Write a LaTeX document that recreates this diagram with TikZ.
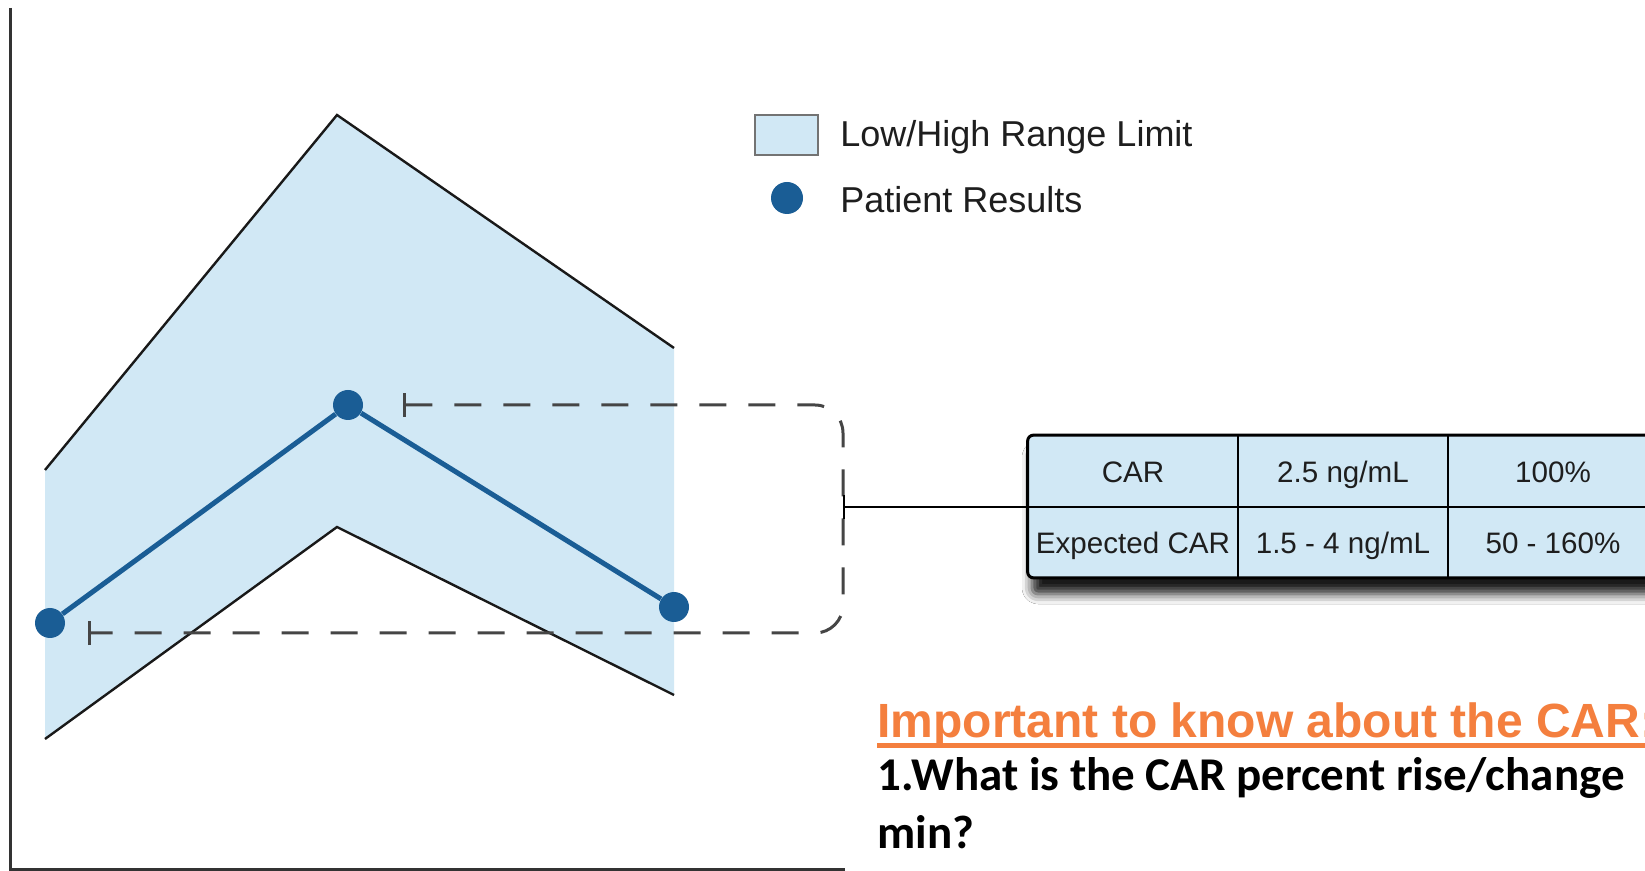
\documentclass[tikz,border=0pt]{standalone}
\usepackage{fontspec}
\setmainfont{Liberation Sans}
\newfontfamily\calfont{Carlito}
\usetikzlibrary{arrows.meta,shadows.blur}
\definecolor{band}{HTML}{D1E8F5}
\definecolor{dotblue}{HTML}{1A5D95}
\definecolor{hdorange}{HTML}{F47F3E}
\definecolor{dashgray}{HTML}{454545}
\definecolor{txtgray}{HTML}{1E1E1E}
\begin{document}
\begin{tikzpicture}[x=0.5pt,y=-0.5pt,
  axisline/.style={line width=1.5pt, draw=black!80},
  limitline/.style={line width=1.2pt, draw=black!90},
  patline/.style={line width=2.5pt, draw=dotblue},
  pdot/.style={circle, fill=dotblue, inner sep=0pt, minimum size=15pt},
  dashbox/.style={line width=1.5pt, draw=dashgray, dash pattern=on 13.5pt off 11pt, rounded corners=14pt},
  cell/.style={minimum width=105pt, minimum height=35.5pt, inner sep=0pt, text height=11.5pt, text depth=0pt, font=\fontsize{14.8}{17}\selectfont, text=txtgray},
  legtext/.style={anchor=base west, inner sep=0pt, font=\fontsize{18}{21}\selectfont, text=txtgray},
]
\clip (0,0) rectangle (1645,871);
\fill[white] (0,0) rectangle (1645,871);

% axes
\coordinate (ytop) at (10,8);
\coordinate (origin) at (10,869);
\coordinate (xend) at (845,869);
\draw[axisline] (ytop) -- (origin) -- (xend);

% range band
\fill[band] (45,470) -- (337,115) -- (674,348) -- (674,695) -- (337,527) -- (45,739) -- cycle;
\draw[limitline] (45,470) -- (337,115) -- (674,348);
\draw[limitline] (45,739) -- (337,527) -- (674,695);

% dashed bracket
\coordinate (dtop) at (403,405);
\coordinate (dmid) at (843,507);
\coordinate (dbot) at (88,633);
\draw[dashbox, {Bar[width=12pt,line width=1.5pt]}-{Bar[width=12pt,line width=1.5pt]}] (dtop) -| (dmid) |- (dbot);

% patient results
\node[pdot] (p1) at (50,623) {};
\node[pdot] (p2) at (348,405) {};
\node[pdot] (p3) at (674,607) {};
\draw[patline] (p1) -- (p2) -- (p3);

% table
\fill[band, rounded corners=3pt, blur shadow={shadow xshift=2pt, shadow yshift=-8pt, shadow blur radius=5pt, shadow opacity=90}] (1028,435) rectangle (1658,578);
\node[cell] (c11) at (1133,471) {CAR};
\node[cell] (c12) at (1343,471) {2.5 ng/mL};
\node[cell] (c13) at (1553,471) {100\%};
\node[cell] (c21) at (1133,542) {Expected CAR};
\node[cell] (c22) at (1343,542) {1.5 - 4 ng/mL};
\node[cell] (c23) at (1553,542) {50 - 160\%};
\draw[line width=1pt] (c11.south west) -- (c13.south east);
\draw[line width=1pt] (c11.north east) -- (c21.south east);
\draw[line width=1pt] (c12.north east) -- (c22.south east);
\draw[line width=1.5pt, rounded corners=3pt] (c11.north west) rectangle (c23.south east);

% connector
\draw[line width=1.2pt, {Bar[width=12pt,line width=1.2pt]}-] (dmid) -- (dmid -| c11.south west);

% legend
\node[draw=black!55, line width=0.8pt, fill=band, minimum width=31.5pt, minimum height=20pt, inner sep=0pt] (legbox) at (786.5,135) {};
\node[legtext] (legband) at (840,147) {Low/High Range Limit};
\node[pdot, minimum size=16pt] (legdot) at (787,198) {};
\node[legtext] (legpat) at (840,213) {Patient Results};

% heading and question
\node[anchor=base west, inner sep=0pt, text=hdorange, font=\fontsize{24}{28}\selectfont\bfseries] (head) at (877,737) {Important to know about the CAR:};
\draw[hdorange, line width=2.5pt] ([yshift=-4pt]head.base west) -- ([yshift=-4pt]head.base east);
\node[anchor=base west, inner sep=0pt, font=\calfont\bfseries\fontsize{23.5}{27}\selectfont] (q1) at (877,790) {1.What is the CAR percent rise/change};
\node[anchor=base west, inner sep=0pt, font=\calfont\bfseries\fontsize{23.5}{27}\selectfont] (q2) at (877,848) {min?};
\end{tikzpicture}
\end{document}
